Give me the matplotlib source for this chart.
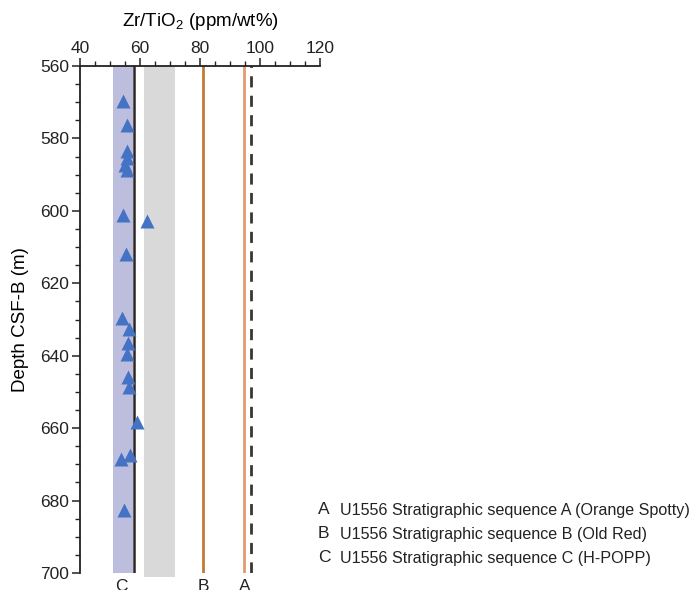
import matplotlib
matplotlib.use("Agg")
import matplotlib.pyplot as plt
import matplotlib.transforms as mtransforms

plt.rcParams['font.family'] = ['Liberation Sans', 'DejaVu Sans']
plt.rcParams['mathtext.fontset'] = 'custom'
plt.rcParams['mathtext.rm'] = 'Liberation Sans'

# Zr/TiO2 measurements, sequence C samples
zr_tio2 = [54.3, 55.7, 55.5, 55.8, 55.0, 55.6, 54.4, 62.3, 55.3,
           53.9, 56.3, 56.1, 55.8, 55.9, 56.3, 59.1, 56.7, 53.6, 54.7]
depth = [569.7, 576.3, 583.6, 585.4, 587.3, 588.7, 601.2, 602.7, 611.9,
         629.7, 632.7, 636.6, 639.6, 645.8, 648.6, 658.3, 667.5, 668.6, 682.7]

# Reference ranges and averages for each stratigraphic sequence
seq_c_range = (51.0, 57.7)
seq_c_mean = 58.0
grey_range = (61.3, 71.7)
seq_b_mean = 81.0
seq_a_mean = 94.8
dashed_ref = 97.1

seq_letters = ['A', 'B', 'C']
seq_names = ['U1556 Stratigraphic sequence A (Orange Spotty)',
             'U1556 Stratigraphic sequence B (Old Red)',
             'U1556 Stratigraphic sequence C (H-POPP)']
seq_label_x = {'C': 53.7, 'B': 81.0, 'A': 94.8}

fig = plt.figure(figsize=(6.9, 5.9), dpi=100)
ax = fig.add_axes([80 / 690, 1 - 573 / 590, 240 / 690, 507 / 590])

ax.axvspan(*seq_c_range, ymin=0, ymax=1, color='#BDBEDD', lw=0, zorder=1)
ax.axvspan(*grey_range, ymin=-0.008, ymax=1, color='#D9D9D9', lw=0,
           zorder=1, clip_on=False)
ax.axvline(seq_c_mean, color='#2B2622', lw=1.8, zorder=2)
ax.axvline(seq_b_mean, color='#C27A35', lw=2.0, zorder=2)
ax.axvline(seq_a_mean, color='#E39A6E', lw=2.0, zorder=2)
ax.axvline(dashed_ref, color='#3A3631', lw=2.0, ls=(0, (4, 3)), zorder=2)

ax.plot(zr_tio2, depth, ls='none', marker='^', ms=9.5, color='#4472C4',
        mec='none', zorder=3)

ax.set_xlim(40, 120)
ax.set_ylim(700, 560)
ax.xaxis.tick_top()
ax.xaxis.set_label_position('top')
ax.set_xticks(range(40, 121, 20))
ax.set_xticks(range(40, 121, 5), minor=True)
ax.set_yticks(range(560, 701, 20))
ax.set_yticks(range(560, 701, 5), minor=True)

for s in ['right', 'bottom']:
    ax.spines[s].set_visible(False)
for s in ['left', 'top']:
    ax.spines[s].set_linewidth(1.3)
    ax.spines[s].set_color('#222222')

ax.tick_params(which='major', length=6, width=1.1, labelsize=12.5,
               colors='#222222', pad=2)
ax.tick_params(which='minor', length=3.5, width=1.0, colors='#222222')
ax.tick_params(axis='y', which='both', right=False)
ax.tick_params(axis='x', which='both', bottom=False)
ax.tick_params(axis='x', which='major', pad=1)

ax.set_xlabel('Zr/TiO$_2$ (ppm/wt%)', fontsize=13.5, labelpad=11)
ax.set_ylabel('Depth CSF-B (m)', fontsize=13.5, labelpad=8)

trans = mtransforms.blended_transform_factory(ax.transData, ax.transAxes)
for letter, xv in seq_label_x.items():
    ax.text(xv, -0.012, letter, transform=trans, ha='center', va='top',
            fontsize=12.5, color='#222222', clip_on=False)

for i, (letter, name) in enumerate(zip(seq_letters, seq_names)):
    yf = 1 - (510 + i * 24) / 590
    fig.text(318 / 690, yf, letter, ha='left', va='center', fontsize=12.5,
             color='#222222')
    fig.text(340 / 690, yf, name, ha='left', va='center', fontsize=11.6,
             color='#222222')

fig.savefig('out.png', dpi=100)
